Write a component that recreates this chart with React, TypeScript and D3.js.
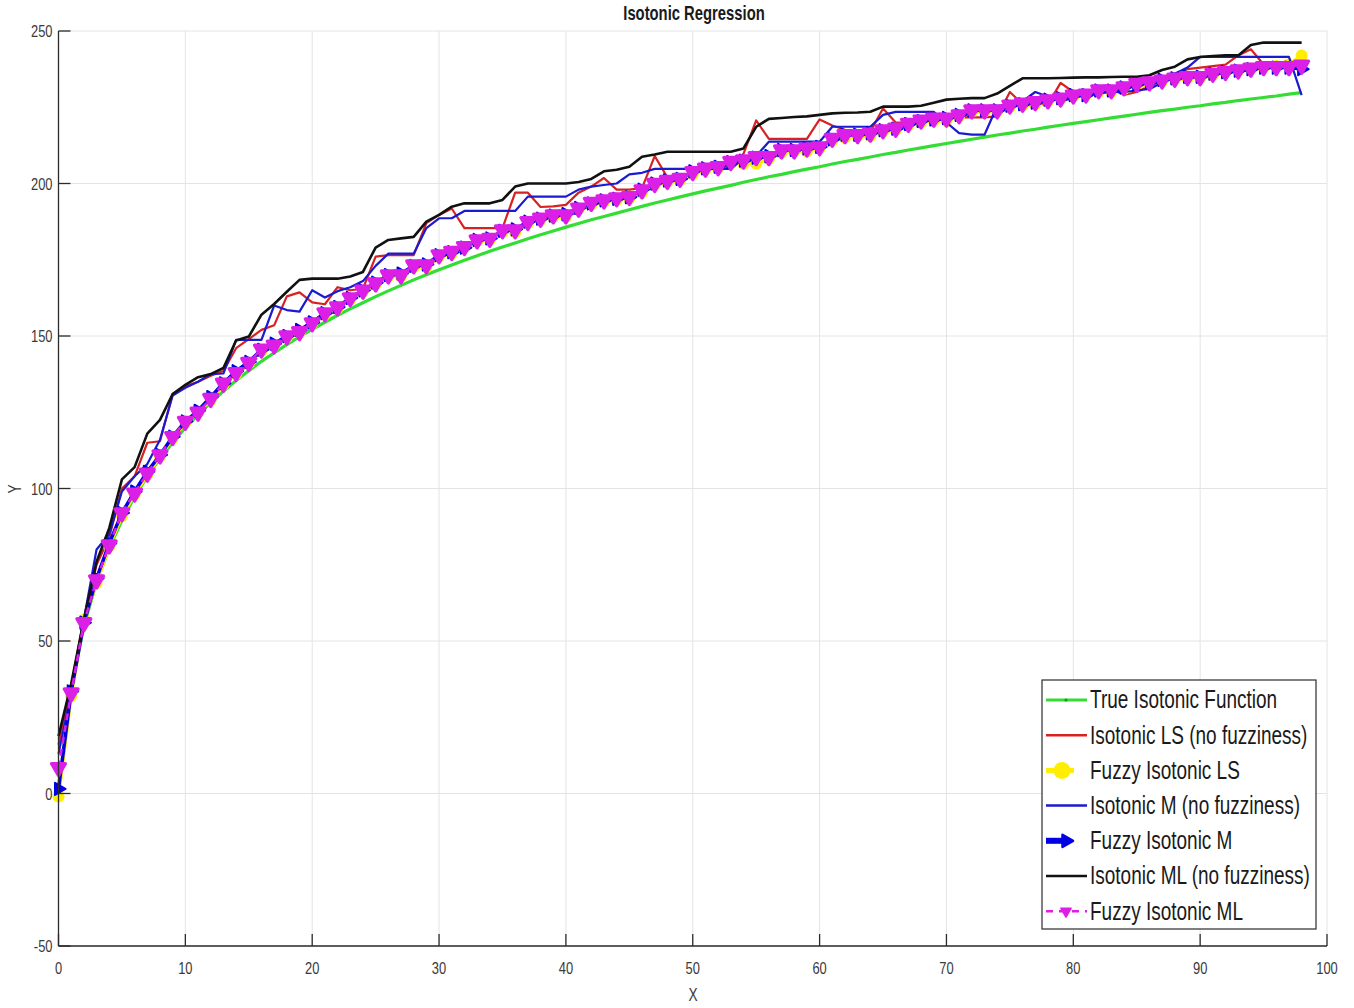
import React from 'react';
import * as d3 from 'd3';

// ---- data (value at x = 0, 1, 2, ... 98) ----
const trueFunction = [
  0, 34.7, 54.9, 69.3, 80.5, 89.6, 97.3, 104.0, 109.9, 115.1,
  119.9, 124.2, 128.2, 131.9, 135.4, 138.6, 141.7, 144.5, 147.2, 149.8,
  152.2, 154.5, 156.8, 158.9, 160.9, 162.9, 164.8, 166.6, 168.4, 170.1,
  171.7, 173.3, 174.8, 176.3, 177.8, 179.2, 180.5, 181.9, 183.2, 184.4,
  185.7, 186.9, 188.1, 189.2, 190.3, 191.4, 192.5, 193.6, 194.6, 195.6,
  196.6, 197.6, 198.5, 199.4, 200.4, 201.3, 202.2, 203.0, 203.9, 204.7,
  205.5, 206.4, 207.2, 207.9, 208.7, 209.5, 210.2, 211.0, 211.7, 212.4,
  213.1, 213.8, 214.5, 215.2, 215.9, 216.5, 217.2, 217.8, 218.5, 219.1,
  219.7, 220.3, 220.9, 221.5, 222.1, 222.7, 223.3, 223.9, 224.4, 225.0,
  225.5, 226.1, 226.6, 227.2, 227.7, 228.2, 228.7, 229.3, 229.8,
];

const isoLS = [
  16, 35, 57.5, 75, 84, 100, 104, 115, 115.5, 131,
  133.5, 135, 137, 138.5, 146, 149, 152, 153.5, 163, 164.3,
  161, 160.4, 166, 165, 165.5, 176, 176.5, 176.5, 176.5, 187,
  189.7, 191.8, 185.4, 185.4, 185.4, 185.4, 197, 197, 192.3, 192.5,
  193, 197, 199, 201.8, 198, 198, 198.5, 209, 202, 202.5,
  203.5, 204.5, 205.5, 206.5, 209.7, 220.7, 214.6, 214.6, 214.6, 214.6,
  221, 219, 217.6, 217.2, 217, 224.6, 220, 220, 220, 220.5,
  221.7, 221.7, 221.7, 221.7, 222, 230, 226, 226, 226, 233,
  230, 230, 230.5, 231, 229, 230, 232, 234, 236, 237.5,
  238, 238.5, 239, 242, 244, 239, 239, 239.5, 241,
];

const fuzzyLS = [
  -1, 32, 57, 69, 81, 91, 98, 104.5, 110.5, 116.5,
  121.5, 125, 129, 134, 137.5, 141, 145, 147, 149.5, 151,
  154, 157, 159, 162, 164.5, 167, 169.5, 169.5, 172.5, 172.5,
  176, 177, 179, 181, 181.5, 184, 184, 187, 188, 189,
  189, 191.5, 193, 194, 194.5, 195, 197, 199.5, 200.5, 201,
  203, 204.5, 205, 206.5, 206.5, 206.5, 208, 210, 210.5, 210.5,
  211.5, 214, 215, 215.5, 215.5, 217, 217.5, 219, 220, 220.5,
  220.5, 222, 223.5, 223.5, 223.5, 225, 225.5, 226, 227, 227.5,
  228.5, 229, 230, 230, 231, 232, 232.5, 233.5, 234, 234.5,
  234.5, 235.5, 236.5, 237, 237.5, 238, 238.5, 239, 242,
];

const isoM = [
  13, 33, 57, 80, 85, 99, 104, 108, 116, 130.5,
  133, 135, 137.5, 137.7, 148.7, 148.7, 148.7, 160, 158.5, 158,
  165, 162.6, 164.7, 166, 168, 173, 177, 177, 177, 185.4,
  188.6, 188.6, 191, 191, 191, 191, 191, 195.7, 195.7, 195.7,
  195.7, 198, 199, 199.5, 200, 203, 203.5, 204.8, 204.8, 204.8,
  204.8, 204.8, 204.8, 204.8, 208.2, 209, 213.7, 213.7, 213.7, 213.7,
  213.7, 218.6, 218.6, 218.6, 218.6, 222.5, 223.5, 223.5, 223.5, 223.5,
  220, 216.5, 216, 216, 225.4, 226, 227, 230, 228.5, 227,
  228, 229, 229.5, 230, 230, 230.5, 231, 233, 236, 238,
  241.5, 241.5, 241.5, 241.5, 241.5, 241.5, 241.5, 241.5, 229,
];

const fuzzyM = [
  1.5, 33.5, 56, 70.5, 82, 92, 99, 105.5, 111, 117,
  122, 125.5, 130, 134.5, 138.5, 141.5, 145.5, 147.5, 150, 152,
  154.5, 157.5, 159.5, 162.5, 165, 167.5, 170, 170.5, 173, 173.5,
  176.5, 177.5, 179, 181.5, 182, 184.5, 185, 187.5, 188.5, 189.5,
  190, 192, 193.5, 194.5, 195, 195.5, 198, 200, 201, 201.5,
  204, 205, 205.5, 207, 207.5, 208.5, 209, 211, 211, 211.5,
  212, 214.5, 216, 216, 216.5, 217.5, 218, 219.5, 220.5, 221,
  221.5, 222.5, 224, 224, 224, 225.5, 226, 226.5, 227.5, 228,
  229, 229, 230.5, 230.5, 231.5, 232.5, 233, 234, 234.5, 235,
  235, 236, 236.5, 237, 237.5, 238, 238, 238, 237.5,
];

const isoML = [
  18.8, 36, 57, 76, 87, 103, 107, 118, 122.5, 131,
  134, 136.5, 137.5, 139.5, 148.5, 149.8, 157, 160.5, 164.5, 168.4,
  168.8, 168.8, 168.8, 169.5, 171, 179, 181.5, 182, 182.5, 187.5,
  189.7, 192.4, 193.5, 193.5, 193.5, 194.6, 199, 200, 200, 200,
  200, 200.5, 201.5, 204, 204.5, 205.5, 208.8, 209.5, 210.4, 210.4,
  210.4, 210.4, 210.4, 210.4, 211.5, 218.6, 221.2, 221.5, 221.8, 222,
  222.5, 223, 223.2, 223.3, 223.5, 225.2, 225.2, 225.2, 225.5, 226.5,
  227.5, 227.8, 228, 228, 229.5, 232, 234.5, 234.5, 234.5, 234.6,
  234.7, 234.8, 234.8, 234.9, 235, 235, 235.5, 237.2, 238.3, 240.7,
  241.5, 241.8, 242, 242, 245.4, 246.2, 246.2, 246.2, 246.2,
];

const fuzzyML = [
  8.5, 33, 56, 70, 81.5, 92, 98.5, 105, 111, 117,
  122, 125, 129.5, 134.5, 138, 141.3, 145.7, 147, 150, 151.4,
  154.3, 157.6, 159.5, 162.5, 165, 167.4, 170, 170, 173.3, 173.3,
  176.6, 177.7, 179.3, 181.5, 182, 184.8, 184.8, 187.5, 188.6, 189.7,
  189.7, 191.9, 193.8, 194.6, 195.3, 195.7, 197.9, 200, 201, 201.7,
  203.9, 205, 205.5, 207.2, 207.7, 208.8, 208.8, 211, 211, 211.6,
  212, 214.8, 216, 216, 216.5, 217.6, 218.1, 219.7, 220.8, 221.4,
  221.4, 222.5, 224.1, 224.1, 224.1, 225.7, 226.3, 226.8, 227.4, 228,
  229, 229.3, 230.7, 230.7, 231.7, 232.8, 233.3, 233.9, 234.5, 235,
  235, 236.1, 236.7, 237.2, 237.8, 238.3, 238.3, 238.3, 238.8,
];

const xTicks = [0, 10, 20, 30, 40, 50, 60, 70, 80, 90, 100];
const yTicks = [-50, 0, 50, 100, 150, 200, 250];

const legendLabels = [
  'True Isotonic Function',
  'Isotonic LS (no fuzziness)',
  'Fuzzy Isotonic LS',
  'Isotonic M (no fuzziness)',
  'Fuzzy Isotonic M',
  'Isotonic ML (no fuzziness)',
  'Fuzzy Isotonic ML',
];

// ---- layout / style ----
const W = 1354;
const H = 1008;
const plot = { left: 58.5, right: 1327, top: 31, bottom: 946 };
const FONT = "'Liberation Sans', Arial, Helvetica, sans-serif";
const SQUEEZE = 0.76;

const C = {
  green: '#33dd33',
  red: '#d82222',
  yellow: '#ffee00',
  blue: '#1a1ad0',
  blueFuzzy: '#0000e0',
  black: '#111111',
  magenta: '#dc1fe6',
  grid: '#e4e4e4',
  axis: '#2b2b2b',
  text: '#3a3a3a',
};

const xScale = d3.scaleLinear().domain([0, 100]).range([plot.left, plot.right]);
const yScale = d3.scaleLinear().domain([-50, 250]).range([plot.bottom, plot.top]);

const lineGen = d3
  .line<number>()
  .x((_, i) => xScale(i))
  .y((d) => yScale(d));

const triDown = d3.symbol().type(d3.symbolTriangle).size(80)();
const triRight = d3.symbol().type(d3.symbolTriangle).size(64)();

type TxtProps = {
  x: number;
  y: number;
  size: number;
  anchor?: 'start' | 'middle' | 'end';
  weight?: string | number;
  rotate?: number;
  fill?: string;
  children: React.ReactNode;
};

function Txt({ x, y, size, anchor = 'start', weight = 'normal', rotate = 0, fill = C.text, children }: TxtProps) {
  return (
    <text
      transform={`translate(${x},${y}) rotate(${rotate}) scale(${SQUEEZE},1)`}
      textAnchor={anchor}
      dominantBaseline="central"
      fontSize={size}
      fontWeight={weight}
      fill={fill}
      fontFamily={FONT}
    >
      {children}
    </text>
  );
}

function LegendSample({ index, cx, cy }: { index: number; cx: number; cy: number }) {
  const x1 = cx - 20;
  const x2 = cx + 21;
  switch (index) {
    case 0:
      return (
        <g>
          <line x1={x1} x2={x2} y1={cy} y2={cy} stroke={C.green} strokeWidth={3} />
          <circle cx={cx} cy={cy} r={1.6} fill="#1a9a1a" />
        </g>
      );
    case 1:
      return <line x1={x1} x2={x2} y1={cy} y2={cy} stroke={C.red} strokeWidth={2.5} />;
    case 2:
      return (
        <g>
          <line x1={x1} x2={cx + 8} y1={cy} y2={cy} stroke={C.yellow} strokeWidth={5} />
          <circle cx={cx - 4} cy={cy} r={8.5} fill={C.yellow} />
        </g>
      );
    case 3:
      return <line x1={x1} x2={x2} y1={cy} y2={cy} stroke={C.blue} strokeWidth={2.5} />;
    case 4:
      return (
        <g>
          <line x1={x1} x2={cx + 2} y1={cy} y2={cy} stroke={C.blueFuzzy} strokeWidth={6} />
          <path d={triRight} transform={`translate(${cx},${cy}) rotate(90)`} fill={C.blueFuzzy} stroke={C.blueFuzzy} strokeWidth={2.5} strokeLinejoin="round" />
        </g>
      );
    case 5:
      return <line x1={x1} x2={x2} y1={cy} y2={cy} stroke={C.black} strokeWidth={2.5} />;
    default:
      return (
        <g>
          <line x1={x1} x2={x2} y1={cy} y2={cy} stroke={C.magenta} strokeWidth={2.5} strokeDasharray="7,6" />
          <path d={triDown} transform={`translate(${cx},${cy}) rotate(180) scale(0.75)`} fill={C.magenta} stroke={C.magenta} strokeWidth={2} strokeLinejoin="round" />
        </g>
      );
  }
}

export default function App() {
  const legend = { x: 1042, y: 680, w: 274, h: 249 };
  const rowY = (i: number) => legend.y + 20 + i * 35.2;

  return (
    <svg
      width={W}
      height={H}
      style={{ position: 'absolute', left: 0, top: 0, background: '#ffffff' }}
    >
      <rect x={0} y={0} width={W} height={H} fill="#ffffff" />

      {/* grid */}
      {xTicks.map((t) => (
        <line key={`gx${t}`} x1={xScale(t)} x2={xScale(t)} y1={plot.top} y2={plot.bottom} stroke={C.grid} strokeWidth={1} />
      ))}
      {yTicks.map((t) => (
        <line key={`gy${t}`} x1={plot.left} x2={plot.right} y1={yScale(t)} y2={yScale(t)} stroke={C.grid} strokeWidth={1} />
      ))}

      {/* series */}
      <path d={lineGen(trueFunction) ?? ''} fill="none" stroke={C.green} strokeWidth={3.2} />
      <path d={lineGen(isoLS) ?? ''} fill="none" stroke={C.red} strokeWidth={2.2} strokeLinejoin="round" />

      <path d={lineGen(fuzzyLS) ?? ''} fill="none" stroke={C.yellow} strokeWidth={3.5} strokeLinejoin="round" />
      {fuzzyLS.map((v, i) => (
        <circle key={`ly${i}`} cx={xScale(i)} cy={yScale(v)} r={6} fill={C.yellow} />
      ))}

      <path d={lineGen(isoM) ?? ''} fill="none" stroke={C.blue} strokeWidth={2.2} strokeLinejoin="round" />

      <path d={lineGen(fuzzyM) ?? ''} fill="none" stroke={C.blueFuzzy} strokeWidth={3.5} strokeLinejoin="round" />
      {fuzzyM.map((v, i) => (
        <path
          key={`mb${i}`}
          d={triRight}
          transform={`translate(${xScale(i)},${yScale(v)}) rotate(90)`}
          fill={C.blueFuzzy}
          stroke={C.blueFuzzy}
          strokeWidth={2}
          strokeLinejoin="round"
        />
      ))}

      <path d={lineGen(isoML) ?? ''} fill="none" stroke={C.black} strokeWidth={2.6} strokeLinejoin="round" />

      <path d={lineGen(fuzzyML) ?? ''} fill="none" stroke={C.magenta} strokeWidth={2.5} strokeDasharray="7,5" />
      {fuzzyML.map((v, i) => (
        <path
          key={`mm${i}`}
          d={triDown}
          transform={`translate(${xScale(i)},${yScale(v)}) rotate(180)`}
          fill={C.magenta}
          stroke={C.magenta}
          strokeWidth={3.5}
          strokeLinejoin="round"
        />
      ))}

      {/* axes */}
      <line x1={plot.left} x2={plot.left} y1={plot.top} y2={plot.bottom} stroke={C.axis} strokeWidth={1.3} />
      <line x1={plot.left} x2={plot.right} y1={plot.bottom} y2={plot.bottom} stroke={C.axis} strokeWidth={1.3} />
      {yTicks.map((t) => (
        <g key={`yt${t}`}>
          <line x1={plot.left} x2={plot.left + 12} y1={yScale(t)} y2={yScale(t)} stroke={C.axis} strokeWidth={1.3} />
          <Txt x={plot.left - 6} y={yScale(t)} size={17} anchor="end">{t}</Txt>
        </g>
      ))}
      {xTicks.map((t) => (
        <g key={`xt${t}`}>
          <line x1={xScale(t)} x2={xScale(t)} y1={plot.bottom} y2={plot.bottom - 12} stroke={C.axis} strokeWidth={1.3} />
          <Txt x={xScale(t)} y={plot.bottom + 22} size={17} anchor="middle">{t}</Txt>
        </g>
      ))}

      {/* labels */}
      <Txt x={694} y={13} size={19.5} anchor="middle" weight="bold" fill="#1a1a1a">Isotonic Regression</Txt>
      <Txt x={693} y={995} size={18} anchor="middle">X</Txt>
      <Txt x={15} y={489} size={18} anchor="middle" rotate={-90}>Y</Txt>

      {/* legend */}
      <rect x={legend.x} y={legend.y} width={legend.w} height={legend.h} fill="#ffffff" stroke={C.axis} strokeWidth={1.2} />
      {legendLabels.map((label, i) => (
        <g key={label}>
          <LegendSample index={i} cx={1066} cy={rowY(i)} />
          <Txt x={1090} y={rowY(i)} size={25} fill="#1a1a1a">{label}</Txt>
        </g>
      ))}
    </svg>
  );
}
